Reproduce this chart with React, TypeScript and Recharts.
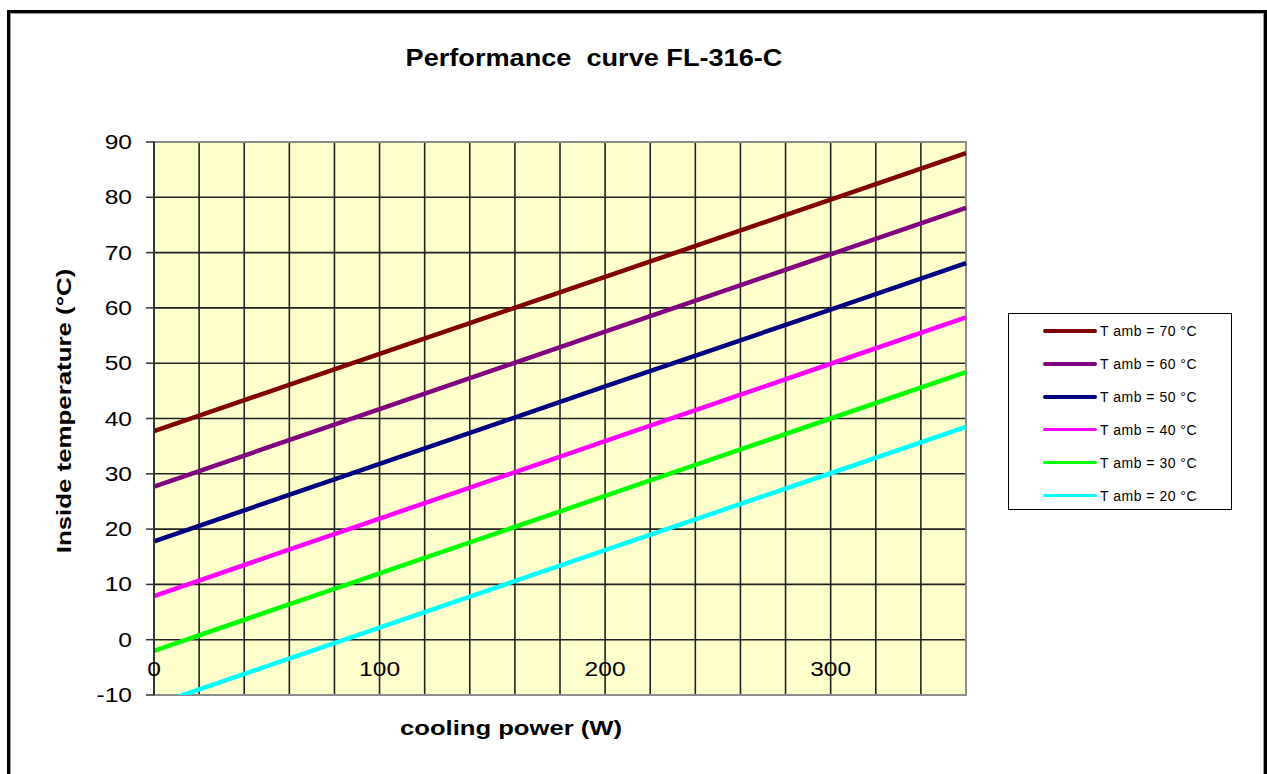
import { LineChart, Line, XAxis, YAxis, CartesianGrid, ReferenceArea } from 'recharts';

const FONT = '"Liberation Sans", Arial, sans-serif';

// cooling power (W) at which the curves were read
const powers = [0, 100, 200, 300, 360];

// inside temperature (°C) per ambient temperature
const amb70 = [37.7, 51.7, 65.6, 79.6, 88.0];
const amb60 = [27.7, 41.7, 55.7, 69.7, 78.1];
const amb50 = [17.8, 31.8, 45.8, 59.7, 68.1];
const amb40 = [7.9, 21.9, 35.9, 49.9, 58.3];
const amb30 = [-2.0, 12.0, 26.0, 40.0, 48.4];
const amb20 = [-11.8, 2.2, 16.2, 30.1, 38.5];

const xTicks = [0, 20, 40, 60, 80, 100, 120, 140, 160, 180, 200, 220, 240, 260, 280, 300, 320, 340, 360];
const yTicks = [-10, 0, 10, 20, 30, 40, 50, 60, 70, 80, 90];

const series = [
  { key: 't70', name: 'T amb = 70 °C', color: '#800000', values: amb70 },
  { key: 't60', name: 'T amb = 60 °C', color: '#800080', values: amb60 },
  { key: 't50', name: 'T amb = 50 °C', color: '#000080', values: amb50 },
  { key: 't40', name: 'T amb = 40 °C', color: '#FF00FF', values: amb40 },
  { key: 't30', name: 'T amb = 30 °C', color: '#00FF00', values: amb30 },
  { key: 't20', name: 'T amb = 20 °C', color: '#00FFFF', values: amb20 },
];

const data = powers.map((p, i) => {
  const row: Record<string, number> = { power: p };
  series.forEach(s => { row[s.key] = s.values[i]; });
  return row;
});

// the reference text is a bit wider than plain Arial
const STRETCH = 1.17;

// only every 100 W gets a label, drawn just above the bottom of the plot
const XTick = ({ x, y, payload }: any) => {
  if (payload.value % 100 !== 0) return null;
  return (
    <text transform={`translate(${x},${y - 19}) scale(${STRETCH},1)`} textAnchor="middle" fontSize={21} fontFamily={FONT} fill="#000">
      {payload.value}
    </text>
  );
};

const YTick = ({ x, y, payload }: any) => (
  <text transform={`translate(${x},${y + 7}) scale(${STRETCH},1)`} textAnchor="end" fontSize={21} fontFamily={FONT} fill="#000">
    {payload.value}
  </text>
);

const App = () => {
  return (
    <div style={{ position: 'fixed', left: 0, top: 0, width: 1267, height: 774, overflow: 'hidden', background: '#fff' }}>
      <div style={{
        position: 'absolute', left: 7, top: 10, width: 1254, height: 800,
        border: '3px solid #000', boxShadow: 'inset 1px 1px 0 #999, inset -1px 0 0 #999',
      }} />
      <LineChart
        width={1267}
        height={774}
        data={data}
        margin={{ top: 142, right: 301, bottom: 49, left: 94 }}
        style={{ position: 'absolute', left: 0, top: 0 }}
      >
        <CartesianGrid fill="#FFFFCC" stroke="#222" strokeWidth={1.6} horizontalValues={yTicks} verticalValues={xTicks} />
        <XAxis
          dataKey="power"
          type="number"
          domain={[0, 360]}
          ticks={xTicks}
          interval={0}
          height={30}
          tickSize={0}
          tickMargin={0}
          axisLine={false}
          tickLine={false}
          tick={<XTick />}
        />
        <YAxis
          type="number"
          domain={[-10, 90]}
          ticks={yTicks}
          interval={0}
          allowDataOverflow
          width={60}
          tickSize={8}
          tickMargin={14}
          axisLine={{ stroke: '#333', strokeWidth: 2 }}
          tickLine={{ stroke: '#333', strokeWidth: 1.5 }}
          tick={<YTick />}
        />
        <ReferenceArea x1={0} x2={360} y1={-10} y2={90} fill="none" stroke="#8c8c8c" strokeWidth={2} ifOverflow="visible" />
        {series.map(s => (
          <Line
            key={s.key}
            dataKey={s.key}
            name={s.name}
            stroke={s.color}
            strokeWidth={4.5}
            dot={false}
            activeDot={false}
            isAnimationActive={false}
          />
        ))}
      </LineChart>

      <div style={{
        position: 'absolute', left: 0, width: 1188, top: 44, textAlign: 'center',
        fontFamily: FONT, fontWeight: 'bold', fontSize: 24, color: '#000', whiteSpace: 'pre',
        transform: 'scaleX(1.13)', transformOrigin: '594px 0',
      }}>
        {'Performance  curve FL-316-C'}
      </div>
      <div style={{
        position: 'absolute', left: 64, top: 411, width: 0, height: 0,
      }}>
        <div style={{
          position: 'absolute', transform: 'translate(-50%, -50%) rotate(-90deg) scaleX(1.23)', whiteSpace: 'nowrap',
          fontFamily: FONT, fontWeight: 'bold', fontSize: 21, color: '#000',
        }}>
          Inside temperature (°C)
        </div>
      </div>
      <div style={{
        position: 'absolute', left: 311, width: 400, top: 716, textAlign: 'center',
        fontFamily: FONT, fontWeight: 'bold', fontSize: 21, color: '#000',
        transform: 'scaleX(1.22)', transformOrigin: '200px 0',
      }}>
        cooling power (W)
      </div>

      <div style={{
        position: 'absolute', left: 1008, top: 313, width: 222, height: 195,
        border: '1px solid #000', background: '#fff', boxSizing: 'content-box',
      }}>
        {series.map((s, i) => (
          <div key={s.key} style={{ position: 'absolute', left: 34, top: 7 + i * 32.9, height: 20, display: 'flex', alignItems: 'center' }}>
            <div style={{ width: 54, height: 3.5, background: s.color, borderRadius: 2 }} />
            <span style={{ marginLeft: 3, fontFamily: FONT, fontSize: 14, letterSpacing: 0.5, color: '#000', whiteSpace: 'nowrap' }}>{s.name}</span>
          </div>
        ))}
      </div>
    </div>
  );
};

export default App;
